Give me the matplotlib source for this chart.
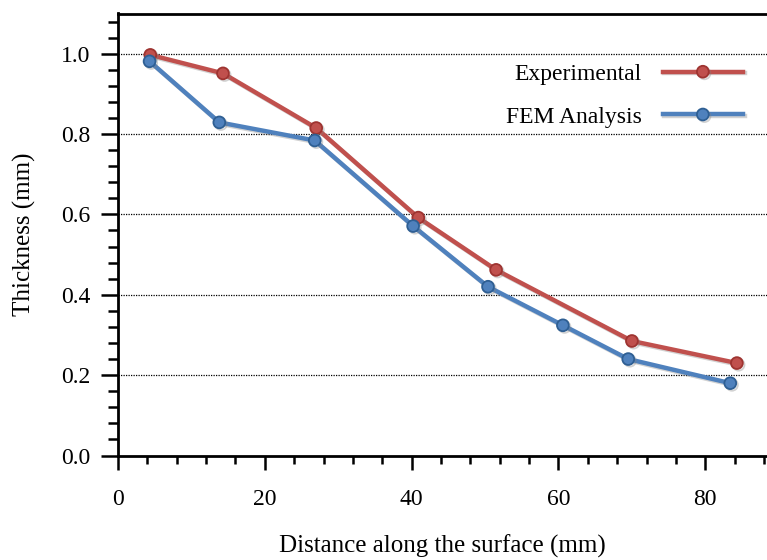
import matplotlib
matplotlib.use("Agg")
import matplotlib.pyplot as plt
from matplotlib.ticker import MultipleLocator, FormatStrFormatter
import matplotlib.patheffects as pe

exp_x = [4.4, 14.3, 27.0, 40.9, 51.5, 70.0, 84.3]
exp_y = [0.997, 0.951, 0.815, 0.592, 0.462, 0.285, 0.230]
fem_x = [4.3, 13.8, 26.8, 40.2, 50.4, 60.6, 69.5, 83.4]
fem_y = [0.981, 0.829, 0.784, 0.571, 0.420, 0.324, 0.240, 0.180]

labels = ["Experimental", "FEM Analysis"]
RED = "#C0504D"
BLUE = "#4F81BD"

plt.rcParams["font.family"] = ["Liberation Serif", "DejaVu Serif"]

fig = plt.figure(figsize=(7.67, 5.6), dpi=100)
ax = fig.add_axes([118 / 767, 1 - 455.5 / 560, 1 - 118 / 767, (455.5 - 13.5) / 560])

shadow = [pe.SimpleLineShadow(offset=(1.2, -1.2), shadow_color="gray", alpha=0.35), pe.Normal()]
ax.plot(exp_x, exp_y, color=RED, lw=3.2, marker="o", ms=8.5, mfc=RED, mec="#9E3431",
        mew=1.3, label=labels[0], path_effects=shadow, zorder=3)
ax.plot(fem_x, fem_y, color=BLUE, lw=3.2, marker="o", ms=8.5, mfc=BLUE, mec="#2F5F93",
        mew=1.3, label=labels[1], path_effects=shadow, zorder=3)

ax.set_xlim(0, 88.4)
ax.set_ylim(0, 1.1)
ax.xaxis.set_major_locator(MultipleLocator(20))
ax.xaxis.set_minor_locator(MultipleLocator(4))
ax.yaxis.set_major_locator(MultipleLocator(0.2))
ax.yaxis.set_minor_locator(MultipleLocator(0.04))
ax.yaxis.set_major_formatter(FormatStrFormatter("%.1f"))

for y in [0.2, 0.4, 0.6, 0.8, 1.0]:
    ax.axhline(y, color="black", lw=0.9, ls=(0, (1, 1)), zorder=1)

for side in ["left", "bottom", "top"]:
    ax.spines[side].set_linewidth(2.0)
ax.spines["right"].set_visible(False)

ax.tick_params(axis="x", which="major", direction="out", length=10, width=1.8, pad=14, labelsize=17)
ax.tick_params(axis="x", which="minor", direction="out", length=6, width=1.8)
ax.tick_params(axis="y", which="major", direction="out", length=12, width=1.8, pad=8, labelsize=17)
ax.tick_params(axis="y", which="minor", direction="out", length=7, width=1.8)

ax.set_xlabel("Distance along the surface (mm)", fontsize=18, labelpad=18)
ax.set_ylabel("Thickness (mm)", fontsize=18, labelpad=18)

ax.legend(loc="upper right", bbox_to_anchor=(0.963, 0.887), borderpad=0, borderaxespad=0,
          frameon=False, markerfirst=False, handlelength=3.4, handletextpad=0.9,
          fontsize=17, labelspacing=0.9)

fig.savefig("out.png", dpi=100)
